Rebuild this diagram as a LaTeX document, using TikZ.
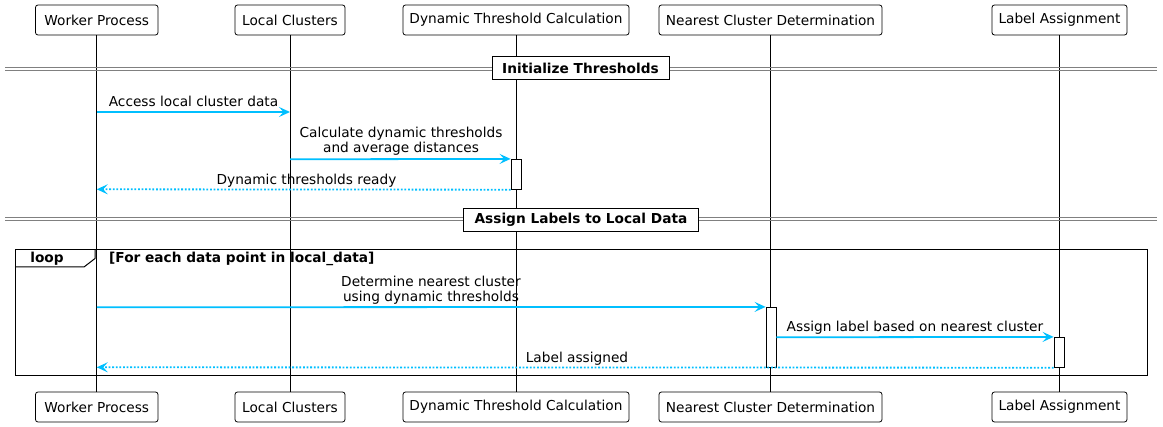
\documentclass[tikz,border=0pt]{standalone}
\usepackage{fontspec}
\setmainfont{DejaVu Sans}
\usetikzlibrary{arrows.meta}
\definecolor{msgblue}{RGB}{0,191,255}
\definecolor{divgray}{RGB}{128,128,128}
\begin{document}
\begin{tikzpicture}[x=1pt,y=-1pt,
  actor/.style={draw, rounded corners=2.5pt, line width=0.8pt, fill=white,
    minimum height=30pt, inner sep=0pt, font=\fontsize{13.7}{16}\selectfont},
  life/.style={line width=0.8pt},
  msg/.style={draw=msgblue, line width=1.8pt, -{Stealth[length=11pt,width=10pt,inset=4.5pt]}},
  ret/.style={msg, dash pattern=on 1.8pt off 1.8pt},
  lbl/.style={font=\fontsize{13.7}{15}\selectfont, inner sep=0pt, anchor=base, align=center},
  act/.style={draw, fill=white, line width=0.8pt, minimum width=10pt,
    minimum height=30pt, inner sep=0pt},
  divline/.style={draw=divgray, line width=0.8pt},
  divbox/.style={draw, fill=white, line width=1pt, inner sep=0pt,
    minimum height=23pt, font=\bfseries\fontsize{13.7}{16}\selectfont},
  frame/.style={line width=1pt},
  framelbl/.style={inner sep=0pt, anchor=base, font=\bfseries\fontsize{13.7}{16}\selectfont},
]
\useasboundingbox (0,0) rectangle (1163,427);

% participants, top and bottom
\node[actor, minimum width=122.5pt] (wpT) at (96.75,20) {Worker Process};
\node[actor, minimum width=110pt]   (lcT) at (290,20)   {Local Clusters};
\node[actor, minimum width=226pt]   (dtT) at (516,20)   {Dynamic Threshold Calculation};
\node[actor, minimum width=223pt]   (ncT) at (770.5,20) {Nearest Cluster Determination};
\node[actor, minimum width=135pt]   (laT) at (1059.5,20) {Label Assignment};

\node[actor, minimum width=122.5pt] (wpB) at (96.75,407) {Worker Process};
\node[actor, minimum width=110pt]   (lcB) at (290,407)   {Local Clusters};
\node[actor, minimum width=226pt]   (dtB) at (516,407)   {Dynamic Threshold Calculation};
\node[actor, minimum width=223pt]   (ncB) at (770.5,407) {Nearest Cluster Determination};
\node[actor, minimum width=135pt]   (laB) at (1059.5,407) {Label Assignment};

% lifelines
\draw[life] (wpT) -- (wpB);
\draw[life] (lcT) -- (lcB);
\draw[life] (dtT) -- (dtB);
\draw[life] (ncT) -- (ncB);
\draw[life] (laT) -- (laB);

% section dividers
\draw[divline] (5,67.5) -- (1157,67.5);
\draw[divline] (5,70.5) -- (1157,70.5);
\node[divbox, minimum width=177pt] (div1) at (580.5,68.5) {Initialize Thresholds};
\draw[divline] (5,217.8) -- (1157,217.8);
\draw[divline] (5,220.8) -- (1157,220.8);
\node[divbox, minimum width=235pt] (div2) at (581,219.7) {Assign Labels to Local Data};

% loop frame
\draw[frame] (15,249.5) rectangle (1147,375.5);
\draw[frame] (15,267) -- (84,267) -- (95,258.5) -- (95,249.5);
\node[framelbl] (looplbl) at (47,263) {loop};
\node[framelbl, anchor=base west] (guard) at (109,263) {[For each data point in local\_data]};

% activation bars
\node[act] (act1) at (516,174.3) {};
\node[act, minimum height=60pt] (act2) at (771,337.3) {};
\node[act] (act3) at (1059,352.3) {};

% message anchor points on the lifelines
\coordinate (m1a) at (wpT.south |- 0,112);
\coordinate (m1b) at (lcT.south |- 0,112);
\coordinate (m2a) at (lcT.south |- 0,159.3);
\coordinate (m3b) at (wpT.south |- 0,189.3);
\coordinate (m4a) at (wpT.south |- 0,307.3);
\coordinate (m5a) at (act2.east |- 0,337.3);
\coordinate (m6b) at (wpT.south |- 0,367.3);

% messages
\draw[msg] (m1a) -- (m1b);
\node[lbl] (t1) at (193.5,107) {Access local cluster data};
\draw[msg] (m2a) -- (act1.north west);
\node[lbl] (t2) at (401,153) {Calculate dynamic thresholds\\and average distances};
\draw[ret] (act1.south west) -- (m3b);
\node[lbl] (t3) at (306.5,184.3) {Dynamic thresholds ready};
\draw[msg] (m4a) -- (act2.north west);
\node[lbl] (t4) at (431,302) {Determine nearest cluster\\using dynamic thresholds};
\draw[msg] (m5a) -- (act3.north west);
\node[lbl] (t5) at (915,332) {Assign label based on nearest cluster};
\draw[ret] (act3.south west) -- (m6b);
\node[lbl] (t6) at (577,362.3) {Label assigned};
\end{tikzpicture}
\end{document}
